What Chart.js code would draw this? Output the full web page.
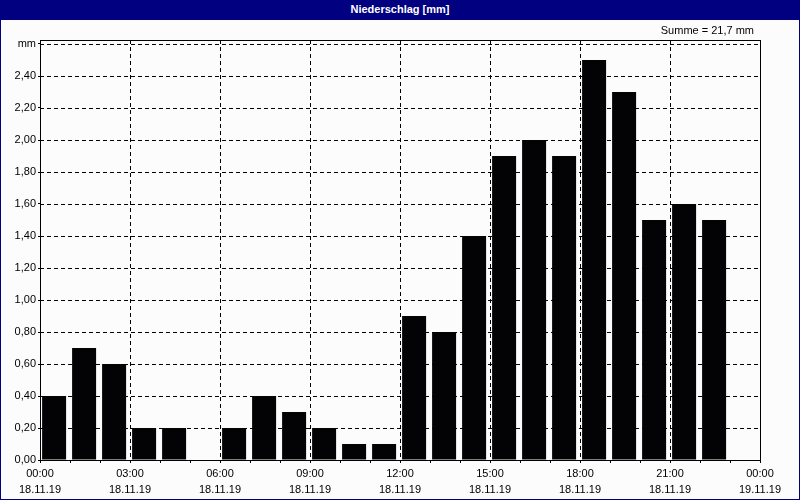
<!DOCTYPE html>
<html>
<head>
<meta charset="utf-8">
<script src="https://cdn.jsdelivr.net/npm/chart.js@4"></script>
<style>
	body { margin: 0; background: #fff; }
	#frame { position: relative; width: 800px; height: 500px; box-sizing: border-box; border: 1px solid #000080; border-top: 0; background: #fcfcfc; }
	#titlebar { height: 20px; background: #000080; color: #fff; font: bold 11px "Liberation Sans", Arial, sans-serif; text-align: center; line-height: 19px; }
	#wrap { position: absolute; left: 0; top: 20px; width: 798px; height: 479px; }
</style>
</head>
<body>
<div id="frame">
	<div id="titlebar">Niederschlag [mm]</div>
	<div id="wrap"><canvas id="chart"></canvas></div>
</div>
<script>
// stündliche Niederschlagsmengen (mm), 18.11.19 00:00 bis 19.11.19 00:00
const hours = [0,1,2,3,4,5,6,7,8,9,10,11,12,13,14,15,16,17,18,19,20,21,22,23];
const rain = [0.4,0.7,0.6,0.2,0.2,0,0.2,0.4,0.3,0.2,0.1,0.1,0.9,0.8,1.4,1.9,2.0,1.9,2.5,2.3,1.5,1.6,1.5,0];
const yTicks = [0,0.2,0.4,0.6,0.8,1.0,1.2,1.4,1.6,1.8,2.0,2.2,2.4,2.6];
const yTickLabels = ['0,00','0,20','0,40','0,60','0,80','1,00','1,20','1,40','1,60','1,80','2,00','2,20','2,40','mm'];
const xTicks = [0,1,2,3,4,5,6,7,8,9,10,11,12,13,14,15,16,17,18,19,20,21,22,23,24];
const xTimeLabels = {0:'00:00',3:'03:00',6:'06:00',9:'09:00',12:'12:00',15:'15:00',18:'18:00',21:'21:00',24:'00:00'};
const xDateLabels = {0:'18.11.19',3:'18.11.19',6:'18.11.19',9:'18.11.19',12:'18.11.19',15:'18.11.19',18:'18.11.19',21:'18.11.19',24:'19.11.19'};
const sumText = 'Summe = 21,7 mm';

const font = { family: '"Liberation Sans", Arial, sans-serif', size: 11, lineHeight: 1.45 };

// gestrichelte Gitterlinien hinter den Balken, Positionen aus den Skalen
const dashGrid = {
	id: 'dashGrid',
	beforeDatasetsDraw(chart) {
		const { ctx, chartArea: a, scales } = chart;
		ctx.save();
		ctx.strokeStyle = '#000';
		ctx.lineWidth = 1;
		ctx.setLineDash([4, 3]);
		yTicks.forEach(v => {
			const y = Math.round(scales.y.getPixelForValue(v)) + 0.5;
			if (v === 0) return;
			ctx.beginPath(); ctx.moveTo(a.left, y); ctx.lineTo(a.right, y); ctx.stroke();
		});
		xTicks.forEach(v => {
			if (v % 3 !== 0 || v === 0 || v === 24) return;
			const x = Math.round(scales.x.getPixelForValue(v)) + 0.5;
			ctx.beginPath(); ctx.moveTo(x, a.top); ctx.lineTo(x, a.bottom); ctx.stroke();
		});
		ctx.restore();
	}
};

// Rahmen um die Zeichenfläche und Summe oben rechts
const framePlugin = {
	id: 'framePlugin',
	afterDraw(chart) {
		const { ctx, chartArea: a } = chart;
		ctx.save();
		ctx.strokeStyle = '#000';
		ctx.lineWidth = 1;
		ctx.setLineDash([]);
		ctx.strokeRect(Math.round(a.left) + 0.5, Math.round(a.top) + 0.5, Math.round(a.right - a.left), Math.round(a.bottom - a.top));
		ctx.fillStyle = '#000';
		ctx.font = '11px "Liberation Sans", Arial, sans-serif';
		ctx.textAlign = 'right';
		ctx.textBaseline = 'middle';
		ctx.fillText(sumText, a.right - 6, a.top - 9);
		ctx.restore();
	}
};

new Chart(document.getElementById('chart'), {
	type: 'bar',
	data: {
		datasets: [{
			data: hours.map((h, i) => ({ x: h + 0.47, y: rain[i] })),
			backgroundColor: '#030205',
			borderWidth: 0,
			barPercentage: 0.8,
			categoryPercentage: 1.0
		}]
	},
	options: {
		responsive: true,
		maintainAspectRatio: false,
		animation: false,
		layout: { padding: { left: 0, top: 20, right: 39, bottom: 0 } },
		plugins: { legend: { display: false }, tooltip: { enabled: false } },
		scales: {
			x: {
				type: 'linear',
				min: 0, max: 24,
				offset: false,
				afterBuildTicks: (axis) => { axis.ticks = xTicks.map(v => ({ value: v })); },
				afterFit: (axis) => { axis.height = 39; },
				ticks: {
					autoSkip: false,
					maxRotation: 0,
					padding: 3,
					color: '#000',
					font: font,
					callback: (v) => xTimeLabels[v] !== undefined ? [xTimeLabels[v], xDateLabels[v]] : ''
				},
				grid: {
					offset: false,
					drawOnChartArea: false,
					tickColor: '#000',
					tickLength: 3
				},
				border: { display: true, color: '#000' }
			},
			y: {
				min: 0, max: 2.625,
				afterBuildTicks: (axis) => { axis.ticks = yTicks.map(v => ({ value: v })); },
				afterFit: (axis) => { axis.width = 39; },
				ticks: {
					padding: 2,
					color: '#000',
					font: font,
					callback: (v) => yTickLabels[yTicks.findIndex(t => Math.abs(t - v) < 1e-6)]
				},
				grid: {
					drawOnChartArea: false,
					tickColor: '#000',
					tickLength: 2
				},
				border: { display: true, color: '#000' }
			}
		}
	},
	plugins: [dashGrid, framePlugin]
});
</script>
</body>
</html>
